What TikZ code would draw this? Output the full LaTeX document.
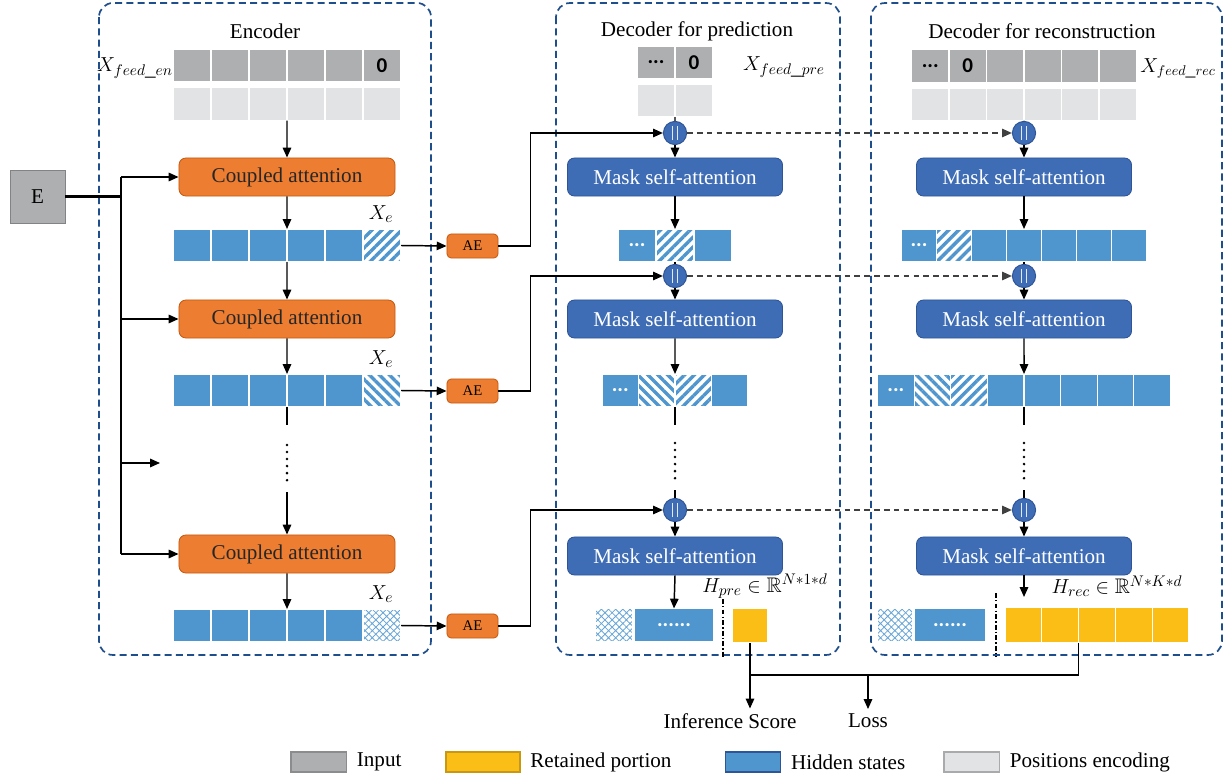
\documentclass[tikz,border=0pt]{standalone}
\usepackage{fontspec}
\usepackage{amssymb}
\setmainfont{Liberation Serif}
\newfontfamily\cellfont{Carlito}
\usetikzlibrary{patterns.meta,arrows.meta,positioning}

\definecolor{inpgray}{HTML}{AEAFB1}
\definecolor{pegray}{HTML}{E2E3E5}
\definecolor{hidblue}{HTML}{4F96CF}
\definecolor{attblue}{HTML}{3E6DB5}
\definecolor{attedge}{HTML}{2F5597}
\definecolor{cplorange}{HTML}{ED7D31}
\definecolor{cpledge}{HTML}{C55A11}
\definecolor{retyellow}{HTML}{FBBE16}
\definecolor{grpblue}{HTML}{1F4E8C}

\tikzset{
  cell/.style={draw=white, line width=0.8pt, inner sep=0pt, outer sep=0pt, minimum height=0.825cm},
  incell/.style={cell, fill=inpgray},
  pecell/.style={cell, fill=pegray},
  hidcell/.style={cell, fill=hidblue, text=white},
  retcell/.style={cell, fill=retyellow},
  fwdcell/.style={cell, pattern={Lines[angle=45,distance=5pt,line width=2.4pt]}, pattern color=hidblue},
  bwdcell/.style={cell, pattern={Lines[angle=-45,distance=5pt,line width=2.4pt]}, pattern color=hidblue},
  netcell/.style={cell, pattern={Hatch[angle=45,distance=3.6pt,line width=0.6pt]}, pattern color=hidblue!85},
  celltxt/.style={font=\cellfont\bfseries\fontsize{15}{18}\selectfont},
  cplbox/.style={rectangle, rounded corners=5pt, fill=cplorange, draw=cpledge, line width=0.6pt,
    minimum width=5.4cm, minimum height=0.95cm, text=black!85},
  msabox/.style={rectangle, rounded corners=5pt, fill=attblue, draw=attedge, line width=0.6pt,
    minimum width=5.375cm, minimum height=0.95cm, text=white},
  aebox/.style={rectangle, rounded corners=3pt, fill=cplorange, draw=cpledge, line width=0.6pt,
    minimum width=1.275cm, minimum height=0.6cm, font=\fontsize{10.5}{12}\selectfont},
  embbox/.style={rectangle, fill=inpgray, draw=inpgray!75!black, line width=0.6pt,
    minimum width=1.375cm, minimum height=1.325cm},
  catnode/.style={circle, fill=attblue, draw=attedge, line width=0.7pt, minimum size=0.58cm, inner sep=0pt,
    path picture={\draw[white!85!attblue, line width=0.5pt]
      ([xshift=-1.6pt, yshift=-5pt]path picture bounding box.center) -- ++(0,10pt)
      ([xshift=1.6pt, yshift=-5pt]path picture bounding box.center) -- ++(0,10pt);}},
  groupbox/.style={draw=grpblue, line width=1.2pt, dash pattern=on 5pt off 3pt, rounded corners=10pt},
  line/.style={line width=1.05pt},
  arr/.style={line, -{Triangle[length=7pt,width=6pt]}},
  darr/.style={arr, dash pattern=on 4pt off 3pt, draw=black!75},
  dotcol/.style={line width=2pt, line cap=round, dash pattern=on 0pt off 5pt},
  divider/.style={line width=0.9pt, dash pattern=on 3.5pt off 1.5pt on 1pt off 1.5pt},
  legbox/.style={rectangle, line width=0.8pt, minimum height=0.5cm, inner sep=0pt}
}

\begin{document}
\begin{tikzpicture}[x=0.025cm, y=-0.025cm, font=\fontsize{15}{18}\selectfont]
\useasboundingbox (0,0) rectangle (1225,781);

% group frames
\draw[groupbox] (99,3) rectangle (431,655);
\draw[groupbox] (556,3) rectangle (840,655);
\draw[groupbox] (871,3) rectangle (1222,655);
\node (enctitle) at (265,31) {Encoder};
\node (pretitle) at (697,31) {Decoder for prediction};
\node (rectitle) at (1042,31) {Decoder for reconstruction};

% encoder
\foreach \i in {0,...,4}
  \node[incell, minimum width=0.95cm] (ein\i) at ({192+38*\i},65.5) {};
\node[incell, celltxt, minimum width=0.95cm] (ein5) at (382,65.5) {0};
\foreach \i in {0,...,5}
  \node[pecell, minimum width=0.95cm] (epe\i) at ({192+38*\i},104) {};
\node (xen) at (135,68) {$X_{feed\_en}$};

\node[cplbox] (catt1) at (287,177) {Coupled attention};
\node[cplbox] (catt2) at (287,319) {Coupled attention};
\node[cplbox] (catt3) at (287,554) {Coupled attention};

\foreach \i in {0,...,4} {
  \node[hidcell, minimum width=0.95cm] (eha\i) at ({192+38*\i},245.5) {};
  \node[hidcell, minimum width=0.95cm] (ehb\i) at ({192+38*\i},390.5) {};
  \node[hidcell, minimum width=0.95cm] (ehc\i) at ({192+38*\i},625.5) {};
}
\node[fwdcell, minimum width=0.95cm] (eha5) at (382,245.5) {};
\node[bwdcell, minimum width=0.95cm] (ehb5) at (382,390.5) {};
\node[netcell, minimum width=0.95cm] (ehc5) at (382,625.5) {};
\node (xea) at (381,214) {$X_e$};
\node (xeb) at (381,359) {$X_e$};
\node (xec) at (381,594) {$X_e$};

\node[aebox] (ae1) at (472.5,246) {AE};
\node[aebox] (ae2) at (472.5,391) {AE};
\node[aebox] (ae3) at (472.5,626) {AE};

\node[embbox] (emb) at (37.5,196.5) {E};
\coordinate (bus) at (121,196.5);
\coordinate (busend) at (160,463);

\draw[arr] (epe2.south east) -- (catt1.north);
\draw[arr] (catt1.south) -- (eha2.north east);
\draw[arr] (eha2.south east) -- (catt2.north);
\draw[arr] (catt2.south) -- (ehb2.north east);
\draw[line] (ehb2.south east) -- ++(0,18);
\draw[dotcol] (287,445) -- (287,484);
\draw[arr] (287,492) -- (catt3.north);
\draw[arr] (catt3.south) -- (ehc2.north east);

\draw[line width=1.8pt] (emb.east) -- (bus);
\draw[line width=1.5pt] (bus |- catt1) -- (bus |- catt3);
\draw[arr] (bus |- catt1) -- (catt1.west);
\draw[arr] (bus |- catt2) -- (catt2.west);
\draw[arr] (bus |- busend) -- (busend);
\draw[arr] (bus |- catt3) -- (catt3.west);

\draw[arr] (eha5.east) -- (ae1.west);
\draw[arr] (ehb5.east) -- (ae2.west);
\draw[arr] (ehc5.east) -- (ae3.west);

% decoder for prediction
\node[incell, celltxt, minimum width=0.95cm] (pin0) at (656,62.5) {...};
\node[incell, celltxt, minimum width=0.95cm] (pin1) at (694,62.5) {0};
\node[pecell, minimum width=0.95cm] (ppe0) at (656,100.5) {};
\node[pecell, minimum width=0.95cm] (ppe1) at (694,100.5) {};
\node (xpre) at (784,67) {$X_{feed\_pre}$};

\node[catnode] (pcat1) at (675,133) {};
\node[catnode] (pcat2) at (675,276) {};
\node[catnode] (pcat3) at (675,510) {};
\node[msabox] (pmsa1) at (675,177) {Mask self-attention};
\node[msabox] (pmsa2) at (675,319) {Mask self-attention};
\node[msabox] (pmsa3) at (675,556) {Mask self-attention};

\node[hidcell, celltxt, text=white, minimum width=0.95cm] (pha0) at (637,245.5) {...};
\node[fwdcell, minimum width=0.95cm] (pha1) at (675,245.5) {};
\node[hidcell, minimum width=0.95cm] (pha2) at (713,245.5) {};

\node[hidcell, celltxt, text=white, minimum width=0.9125cm] (phb0) at (620.25,390.5) {...};
\node[bwdcell, minimum width=0.9125cm] (phb1) at (656.75,390.5) {};
\node[fwdcell, minimum width=0.9125cm] (phb2) at (693.25,390.5) {};
\node[hidcell, minimum width=0.9125cm] (phb3) at (729.75,390.5) {};

\node[netcell, minimum width=0.95cm] (pnet) at (614,625) {};
\node[hidcell, celltxt, text=white, minimum width=2cm] (pdots) at (674,625) {......};
\node[retcell, minimum width=0.9cm, minimum height=0.875cm] (pret) at (750,625.5) {};
\draw[divider] (723,599) -- (723,657);
\node (hpre) at (765,586) {$H_{pre}\in\mathbb{R}^{N*1*d}$};

\draw[line] (ppe0.south east) -- (pcat1.north);
\draw[arr] (pcat1.south) -- (pmsa1.north);
\draw[arr] (pmsa1.south) -- (pha1.north);
\draw[line] (pha1.south) -- (pcat2.north);
\draw[arr] (pcat2.south) -- (pmsa2.north);
\draw[arr] (pmsa2.south) -- (phb1.north east);
\draw[line] (phb1.south east) -- ++(0,18);
\draw[dotcol] (675,443) -- (675,484);
\draw[line] (675,490) -- (pcat3.north);
\draw[arr] (pcat3.south) -- (pmsa3.north);
\draw[arr] (pmsa3.south) -- (pdots.north);

\draw[arr] (ae1.east) -- ++(32,0) |- (pcat1.west);
\draw[arr] (ae2.east) -- ++(32,0) |- (pcat2.west);
\draw[arr] (ae3.east) -- ++(32,0) |- (pcat3.west);

% decoder for reconstruction
\node[incell, celltxt, minimum width=0.9375cm] (rin0) at (930.25,66) {...};
\node[incell, celltxt, minimum width=0.9375cm] (rin1) at (967.75,66) {0};
\foreach \i in {2,...,5}
  \node[incell, minimum width=0.9375cm] (rin\i) at ({930.25+37.5*\i},66) {};
\foreach \i in {0,...,5}
  \node[pecell, minimum width=0.9375cm] (rpe\i) at ({930.25+37.5*\i},104.5) {};
\node[font=\fontsize{14}{17}\selectfont] (xrec) at (1178,68) {$X_{feed\_rec}$};

\node[catnode] (rcat1) at (1024,133) {};
\node[catnode] (rcat2) at (1024,276) {};
\node[catnode] (rcat3) at (1024,510) {};
\node[msabox] (rmsa1) at (1024,177) {Mask self-attention};
\node[msabox] (rmsa2) at (1024,319) {Mask self-attention};
\node[msabox] (rmsa3) at (1024,556) {Mask self-attention};

\node[hidcell, celltxt, text=white, minimum width=0.875cm] (rha0) at (919,245.5) {...};
\node[fwdcell, minimum width=0.875cm] (rha1) at (954,245.5) {};
\foreach \i in {2,...,6}
  \node[hidcell, minimum width=0.875cm] (rha\i) at ({919+35*\i},245.5) {};

\node[hidcell, celltxt, text=white, minimum width=0.915cm] (rhb0) at (895.9,390.5) {...};
\node[bwdcell, minimum width=0.915cm] (rhb1) at (932.5,390.5) {};
\node[fwdcell, minimum width=0.915cm] (rhb2) at (969.1,390.5) {};
\foreach \i in {3,...,7}
  \node[hidcell, minimum width=0.915cm] (rhb\i) at ({895.9+36.6*\i},390.5) {};

\node[netcell, minimum width=0.9cm] (rnet) at (895,625) {};
\node[hidcell, celltxt, text=white, minimum width=1.8cm] (rdots) at (950,625) {......};
\foreach \i in {0,...,4}
  \node[retcell, minimum width=0.92cm, minimum height=0.9cm] (rret\i) at ({1023.4+36.8*\i},625) {};
\draw[divider] (996,593) -- (996,657);
\node (hrec) at (1117,586) {$H_{rec}\in\mathbb{R}^{N*K*d}$};
\coordinate (recend) at (1024,597);

\draw[line] (rpe2.south east) -- (rcat1.north);
\draw[arr] (rcat1.south) -- (rmsa1.north);
\draw[arr] (rmsa1.south) -- (rha3.north);
\draw[line] (rha3.south) -- (rcat2.north);
\draw[arr] (rcat2.south) -- (rmsa2.north);
\draw[arr] (rmsa2.south) -- (rhb3.north east);
\draw[line] (rhb3.south east) -- ++(0,18);
\draw[dotcol] (1024,443) -- (1024,484);
\draw[line] (1024,490) -- (rcat3.north);
\draw[arr] (rcat3.south) -- (rmsa3.north);
\draw[arr] (rmsa3.south) -- (recend);

\draw[darr] (pcat1.east) -- (rcat1.west);
\draw[darr] (pcat2.east) -- (rcat2.west);
\draw[darr] (pcat3.east) -- (rcat3.west);

% outputs
\node (score) at (730,721) {Inference Score};
\node (loss) at (868,721) {Loss};
\coordinate (merge) at (750,675);
\draw[arr] (pret.south) -- (pret.south |- score.north);
\draw[line] (rret1.south east) |- (merge);
\draw[arr] (loss.north |- merge) -- (loss.north);

% legend
\node[legbox, fill=inpgray, draw=inpgray!80!black, minimum width=1.39cm] (leginp) at (318.75,762) {};
\node[right=0.12cm of leginp] (leginptxt) {Input};
\node[legbox, fill=retyellow, draw=retyellow!80!black, minimum width=1.85cm] (legret) at (483,762) {};
\node[right=0.12cm of legret] (legrettxt) {Retained portion};
\node[legbox, fill=hidblue, draw=attedge, minimum width=1.37cm] (leghid) at (753.3,762) {};
\node[right=0.12cm of leghid] (leghidtxt) {Hidden states};
\node[legbox, fill=pegray, draw=pegray!75!black, minimum width=1.39cm] (legpe) at (971.75,762) {};
\node[right=0.12cm of legpe] (legpetxt) {Positions encoding};
\end{tikzpicture}
\end{document}
